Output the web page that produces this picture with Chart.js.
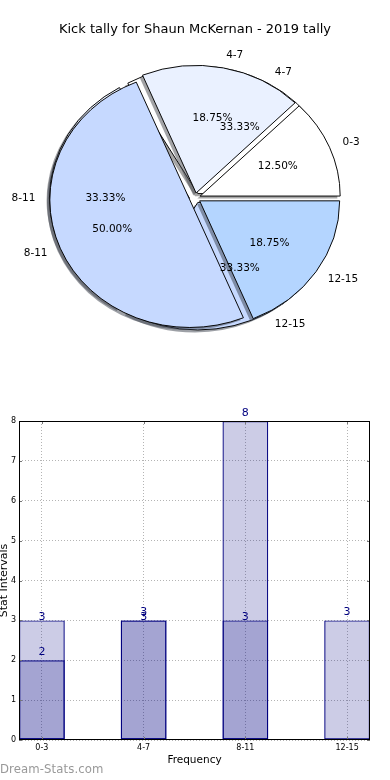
<!DOCTYPE html>
<html><head><meta charset="utf-8">
<script src="https://cdn.jsdelivr.net/npm/chart.js@4"></script>
<style>
html,body{margin:0;padding:0;background:#fff;width:390px;height:780px;overflow:hidden;}
#wrap{position:relative;width:390px;height:780px;}
canvas{position:absolute;left:0;}
#pieBack,#pieFront{top:0;}
#bars{top:400px;}
#wm{position:absolute;left:0;top:762px;font:11.7px "DejaVu Sans";color:#999;letter-spacing:0.1px;}
</style></head>
<body><div id="wrap">
<canvas id="pieBack" width="390" height="400"></canvas>
<canvas id="pieFront" width="390" height="400"></canvas>
<canvas id="bars" width="390" height="380"></canvas>
<div id="wm">Dream-Stats.com</div>
</div>
<script>
// ---- data ----
const TITLE = 'Kick tally for Shaun McKernan - 2019 tally';
const categories = ['0-3', '4-7', '8-11', '12-15'];
const tallyA = [2, 3, 8, 3];                 // first pie + first bar series
const pieLabelsB = ['4-7', '8-11', '12-15']; // labels printed for the second pie
const tallyB = [3, 3, 3];                    // second pie + second bar series (first three bars)
const pieColorsA = ['#ffffff', '#eaf1ff', '#c6d9ff', '#b4d5ff'];
const pieColorsB = ['#ffffff', '#eaf1ff', '#c6d9ff'];
const yTicks = [0, 1, 2, 3, 4, 5, 6, 7, 8];
const Y_TITLE = 'Stat Intervals';
const X_TITLE = 'Frequency';

// ---- style ----
const FONT = 'DejaVu Sans';
Chart.defaults.font.family = FONT;
Chart.defaults.color = '#000';
const RADIUS = 140, YS = 0.911, EXPLODE = 5.6, SH_X = -2.8, SH_Y = 2.8;
const TITLE_SIZE = 13, TITLE_LH = 1.2, TITLE_PAD = 22;
const TITLE_BOX = TITLE_PAD + TITLE_SIZE * TITLE_LH;
const PIE_CY = 198;
const PIE_PAD_BOTTOM = 400 - (2 * PIE_CY - TITLE_BOX);

function shadowOf(hex) {
  const n = parseInt(hex.slice(1), 16);
  const r = (n >> 16) & 255, g = (n >> 8) & 255, b = n & 255;
  return `rgba(${Math.round(r*0.3)},${Math.round(g*0.3)},${Math.round(b*0.3)},0.5)`;
}

const pieLook = {
  id: 'pieLook',
  beforeDatasetsDraw(chart) {
    const ctx = chart.ctx;
    const arcs = chart.getDatasetMeta(0).data;
    const cx = arcs[0].x, cy = arcs[0].y;
    chart.$saved = arcs.map(a => [a.x, a.y]);
    ctx.save();
    ctx.translate(cx, cy); ctx.scale(1, YS); ctx.translate(-cx, -cy);
    arcs.forEach(a => {
      const m = (a.startAngle + a.endAngle) / 2;
      a.x = cx + Math.cos(m) * EXPLODE;
      a.y = cy + Math.sin(m) * EXPLODE;
    });
    const cols = chart.data.datasets[0].backgroundColor;
    arcs.forEach((a, i) => {
      if (a.endAngle - a.startAngle <= 0) return;
      ctx.beginPath();
      ctx.moveTo(a.x + SH_X, a.y + SH_Y);
      ctx.arc(a.x + SH_X, a.y + SH_Y, a.outerRadius, a.startAngle, a.endAngle);
      ctx.closePath();
      ctx.fillStyle = shadowOf(cols[i]);
      ctx.fill();
    });
  },
  afterDatasetsDraw(chart) {
    const arcs = chart.getDatasetMeta(0).data;
    arcs.forEach((a, i) => { a.x = chart.$saved[i][0]; a.y = chart.$saved[i][1]; });
    chart.ctx.restore();
  }
};

function drawPieTexts(ctx, chart) {
  const arcs = chart.getDatasetMeta(0).data;
  const vals = chart.data.datasets[0].data;
  const labels = chart.data.labels;
  const total = vals.reduce((s, v) => s + v, 0);
  ctx.save();
  ctx.fillStyle = '#000';
  ctx.font = '10.5px "' + FONT + '"';
  ctx.textBaseline = 'middle';
  arcs.forEach((a, i) => {
    const m = (a.startAngle + a.endAngle) / 2;
    const c = Math.cos(m), s = Math.sin(m);
    const d1 = EXPLODE + 1.1 * a.outerRadius;
    ctx.textAlign = c > 0 ? 'left' : 'right';
    ctx.fillText(labels[i], a.x + d1 * c, a.y + d1 * s * YS);
    const d2 = EXPLODE + 0.6 * a.outerRadius;
    ctx.textAlign = 'center';
    ctx.fillText((vals[i] / total * 100).toFixed(2) + '%', a.x + d2 * c, a.y + d2 * s * YS);
  });
  ctx.restore();
}

function pieConfig(labels, values, colors, withTitle, backChart) {
  return {
    type: 'pie',
    data: {
      labels: [...labels].reverse(),
      datasets: [{
        data: [...values].reverse(),
        backgroundColor: [...colors].reverse(),
        borderColor: '#000', borderWidth: 1,
        radius: RADIUS, clip: false
      }]
    },
    options: {
      responsive: false, animation: false, events: [],
      rotation: 90, radius: RADIUS,
      layout: { padding: { top: withTitle ? 0 : TITLE_BOX, bottom: PIE_PAD_BOTTOM, left: 0, right: 0 } },
      plugins: {
        legend: { display: false }, tooltip: { enabled: false },
        title: {
          display: withTitle, text: TITLE, color: '#000',
          font: { family: FONT, size: TITLE_SIZE, weight: 'normal', lineHeight: TITLE_LH },
          padding: { top: TITLE_PAD, bottom: 0 }
        }
      }
    },
    plugins: withTitle ? [pieLook, {
      id: 'pieTexts',
      afterDraw(chart) {
        drawPieTexts(chart.ctx, backChart);
        drawPieTexts(chart.ctx, chart);
      }
    }] : [pieLook]
  };
}

const back = new Chart(document.getElementById('pieBack'),
  pieConfig(pieLabelsB, tallyB, pieColorsB, false, null));
new Chart(document.getElementById('pieFront'),
  pieConfig(categories, tallyA, pieColorsA, true, back));

// ---- bar chart ----
const NAVY = '#000080';
const barDecor = {
  id: 'barDecor',
  afterDatasetsDraw(chart) {
    const ctx = chart.ctx, a = chart.chartArea;
    const xs = chart.scales.x, ys = chart.scales.y;
    ctx.save();
    ctx.strokeStyle = '#777'; ctx.lineWidth = 1;
    ctx.beginPath();
    categories.forEach((c, i) => {
      const px = Math.round(xs.getPixelForValue(i)) + 0.5;
      ctx.moveTo(px, a.bottom); ctx.lineTo(px, a.bottom - 3);
      ctx.moveTo(px, a.top); ctx.lineTo(px, a.top + 3);
    });
    yTicks.forEach(v => {
      const py = Math.round(ys.getPixelForValue(v)) + 0.5;
      ctx.moveTo(a.left, py); ctx.lineTo(a.left + 3, py);
      ctx.moveTo(a.right, py); ctx.lineTo(a.right - 3, py);
    });
    ctx.stroke();
    ctx.strokeStyle = '#000';
    ctx.strokeRect(Math.round(a.left) + 0.5, Math.round(a.top) + 0.5,
      Math.round(a.right - a.left) - 1, Math.round(a.bottom - a.top) - 1);
    // value labels
    ctx.fillStyle = NAVY;
    ctx.font = '11px "' + FONT + '"';
    ctx.textAlign = 'center';
    ctx.textBaseline = 'alphabetic';
    const gaps = [5, 0];
    chart.data.datasets.forEach((ds, di) => {
      chart.getDatasetMeta(di).data.forEach((el, i) => {
        ctx.fillText(String(ds.data[i].y), el.x, el.y - gaps[di]);
      });
    });
    ctx.restore();
  }
};

const barStyle = {
  backgroundColor: 'rgba(0,0,128,0.2)', borderColor: NAVY, borderWidth: 1.2,
  borderSkipped: false, grouped: false, categoryPercentage: 0.45, barPercentage: 1
};

new Chart(document.getElementById('bars'), {
  type: 'bar',
  data: {
    datasets: [
      Object.assign({ label: 'A', data: tallyA.map((v, i) => ({ x: i, y: v })) }, barStyle),
      Object.assign({ label: 'B', data: tallyB.map((v, i) => ({ x: i, y: v })) }, barStyle)
    ]
  },
  options: {
    responsive: false, animation: false, events: [],
    layout: { padding: { top: 21, right: 20, left: 0, bottom: 0 } },
    plugins: { legend: { display: false }, tooltip: { enabled: false } },
    scales: {
      x: {
        type: 'linear', min: -0.225, max: 3.225, offset: false,
        afterBuildTicks: s => { s.ticks = categories.map((c, i) => ({ value: i })); },
        afterFit: s => { s.height = 40; },
        ticks: { callback: v => categories[v], font: { size: 8 }, color: '#000', padding: 3, maxRotation: 0, autoSkip: false },
        grid: { color: '#b4b4b4', lineWidth: 1, drawTicks: false, offset: false },
        border: { display: false, dash: [1, 2] },
        title: { display: true, text: X_TITLE, font: { size: 10.5, lineHeight: 1.2 }, padding: { top: 0, bottom: 13 } }
      },
      y: {
        min: 0, max: 8,
        afterBuildTicks: s => { s.ticks = yTicks.map(v => ({ value: v })); },
        afterFit: s => { s.width = 19; },
        ticks: { font: { size: 8 }, color: '#000', padding: 3 },
        grid: { color: '#b4b4b4', lineWidth: 1, drawTicks: false },
        border: { display: false, dash: [1, 2] },
        title: { display: true, text: Y_TITLE, font: { size: 11, lineHeight: 1 }, padding: { top: -1, bottom: 0 } }
      }
    }
  },
  plugins: [barDecor]
});
</script>
</body></html>
